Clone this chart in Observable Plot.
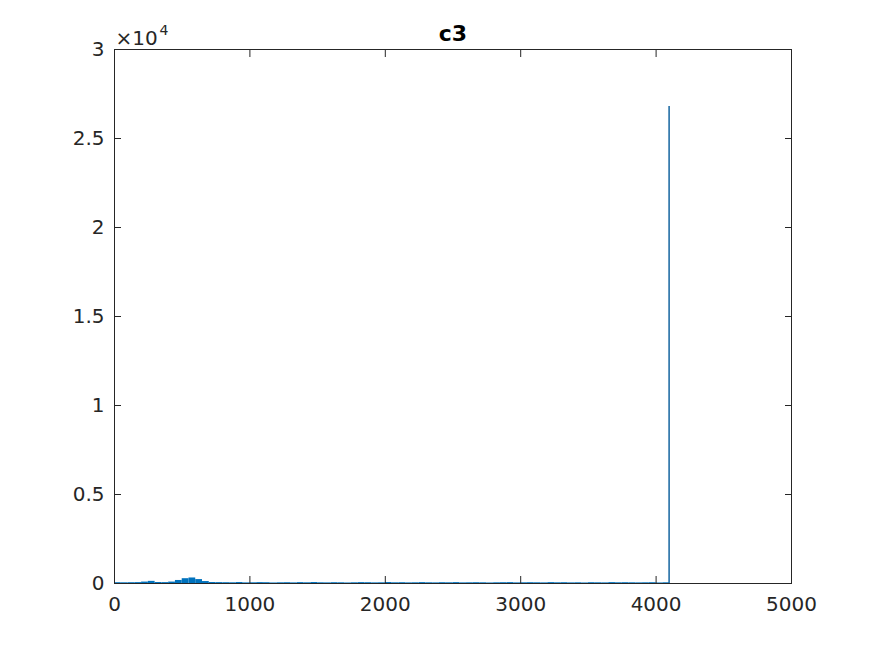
<!DOCTYPE html>
<html>
<head>
<meta charset="utf-8">
<script src="https://cdn.jsdelivr.net/npm/d3@7"></script>
<script src="https://cdn.jsdelivr.net/npm/@observablehq/plot@0.6"></script>
<style>
  html, body { margin: 0; padding: 0; background: #fff; }
  #chart svg { display: block; }
</style>
</head>
<body>
<div id="chart"></div>
<script>
const title = "c3";
const binWidth = 50;
// histogram counts, bins start at 0, 50, 100, ... 4050
const counts = [
  45, 40, 45, 50, 80, 120, 55, 50, 80, 170, 270, 310, 220, 110, 55,
  50, 45, 40, 55, 35, 40, 50, 45, 30, 40,
  45, 35, 50, 40, 55, 40, 35, 45, 40, 30,
  40, 50, 45, 35, 40, 55, 40, 45, 35, 40,
  50, 40, 35, 45, 40, 50, 35, 40, 45, 40,
  30, 40, 45, 50, 35, 40, 45, 40, 35, 50,
  40, 45, 35, 40, 30, 45, 40, 35, 50, 40,
  45, 40, 35, 40, 45, 30, 40
];
const spikeX = [4096];
const spikeY = [26800];
const xTicks = [0, 1000, 2000, 3000, 4000, 5000];
const yTicks = [0, 5000, 10000, 15000, 20000, 25000, 30000];
const yTickLabels = ["0", "0.5", "1", "1.5", "2", "2.5", "3"];
const exponentBase = "\u00d710";
const exponent = "4";

const bins = counts.map((c, i) => ({x1: i * binWidth, x2: (i + 1) * binWidth, y: c}));
const spike = spikeX.map((x, i) => ({x, y: spikeY[i]}));

const axisColor = "#262626";
const font = "DejaVu Sans";

const chart = Plot.plot({
  width: 875,
  height: 656,
  marginLeft: 114,
  marginRight: 84,
  marginTop: 49,
  marginBottom: 73,
  style: {fontFamily: font, fontSize: "20px", color: axisColor, background: "#fff"},
  x: {domain: [0, 5000]},
  y: {domain: [0, 30000]},
  marks: [
    Plot.rectY(bins, {x1: "x1", x2: "x2", y: "y", fill: "#0072BD"}),
    Plot.ruleX(spike, {x: "x", y1: 0, y2: "y", stroke: "#1565a0", strokeWidth: 1.5}),
    Plot.frame({stroke: axisColor, strokeWidth: 1}),
    Plot.axisX({anchor: "bottom", ticks: xTicks, tickSize: -7, text: null, label: null, stroke: axisColor}),
    Plot.axisX({anchor: "top", ticks: xTicks, tickSize: -7, text: null, label: null, stroke: axisColor}),
    Plot.axisY({anchor: "left", ticks: yTicks, tickSize: -7, text: null, label: null, stroke: axisColor}),
    Plot.axisY({anchor: "right", ticks: yTicks, tickSize: -7, text: null, label: null, stroke: axisColor}),
    Plot.axisX({anchor: "bottom", ticks: xTicks, tickSize: 0, tickPadding: 13, label: null, fontSize: 20, fill: axisColor, tickFormat: d => String(d)}),
    Plot.axisY({anchor: "left", ticks: yTicks, tickSize: 0, tickPadding: 10, label: null, fontSize: 20, fill: axisColor, tickFormat: d => yTickLabels[yTicks.indexOf(d)]}),
    Plot.text([title], {frameAnchor: "top", dy: -9, lineAnchor: "bottom", fontWeight: "bold", fontSize: 22, fill: "#000"}),
    Plot.text([exponentBase], {frameAnchor: "top-left", textAnchor: "start", lineAnchor: "bottom", dx: 1, dy: -5, fontSize: 20, fill: axisColor}),
    Plot.text([exponent], {frameAnchor: "top-left", textAnchor: "start", lineAnchor: "bottom", dx: 45, dy: -15, fontSize: 14, fill: axisColor})
  ]
});
document.getElementById("chart").appendChild(chart);
</script>
</body>
</html>
